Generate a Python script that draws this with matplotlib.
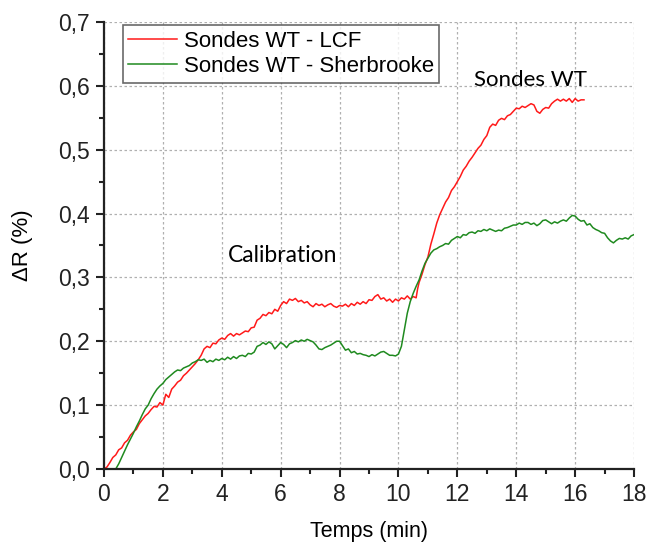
import matplotlib
matplotlib.use("Agg")
import matplotlib.pyplot as plt
from matplotlib.ticker import MultipleLocator, FuncFormatter

# sondes WT - LCF
t_lcf = [0.00, 0.10, 0.20, 0.30, 0.40, 0.50, 0.60, 0.70, 0.80, 0.90,
         1.00, 1.10, 1.20, 1.30, 1.40, 1.50, 1.60, 1.70, 1.80, 1.90,
         2.00, 2.10, 2.20, 2.30, 2.40, 2.50, 2.60, 2.70, 2.80, 2.90,
         3.00, 3.10, 3.20, 3.30, 3.40, 3.50, 3.60, 3.70, 3.80, 3.90,
         4.00, 4.10, 4.20, 4.30, 4.40, 4.50, 4.60, 4.70, 4.80, 4.90,
         5.00, 5.10, 5.20, 5.30, 5.40, 5.50, 5.60, 5.70, 5.80, 5.90,
         6.00, 6.10, 6.20, 6.30, 6.40, 6.50, 6.60, 6.70, 6.80, 6.90,
         7.00, 7.10, 7.20, 7.30, 7.40, 7.50, 7.60, 7.70, 7.80, 7.90,
         8.00, 8.10, 8.20, 8.30, 8.40, 8.50, 8.60, 8.70, 8.80, 8.90,
         9.00, 9.10, 9.20, 9.30, 9.40, 9.50, 9.60, 9.70, 9.80, 9.90,
         10.00, 10.10, 10.20, 10.30, 10.40, 10.50, 10.60, 10.65, 10.70, 10.80,
         10.90, 11.00, 11.10, 11.20, 11.30, 11.40, 11.50, 11.60, 11.70, 11.80,
         11.90, 12.00, 12.10, 12.20, 12.30, 12.40, 12.50, 12.60, 12.70, 12.80,
         12.90, 13.00, 13.10, 13.20, 13.30, 13.40, 13.50, 13.60, 13.70, 13.80,
         13.90, 14.00, 14.10, 14.20, 14.30, 14.40, 14.50, 14.60, 14.70, 14.80,
         14.90, 15.00, 15.10, 15.20, 15.30, 15.40, 15.50, 15.60, 15.70, 15.80,
         15.90, 16.00, 16.10, 16.20, 16.30]
dr_lcf = [0.000, 0.003, 0.010, 0.018, 0.022, 0.030, 0.033, 0.041, 0.045, 0.053,
          0.058, 0.062, 0.071, 0.077, 0.083, 0.087, 0.093, 0.098, 0.097, 0.104,
          0.100, 0.117, 0.112, 0.125, 0.130, 0.136, 0.139, 0.146, 0.150, 0.155,
          0.160, 0.165, 0.171, 0.178, 0.188, 0.192, 0.190, 0.197, 0.196, 0.202,
          0.205, 0.203, 0.209, 0.212, 0.208, 0.212, 0.210, 0.213, 0.216, 0.215,
          0.221, 0.222, 0.233, 0.236, 0.242, 0.240, 0.245, 0.243, 0.250, 0.247,
          0.256, 0.262, 0.259, 0.266, 0.264, 0.267, 0.262, 0.264, 0.260, 0.262,
          0.257, 0.254, 0.259, 0.256, 0.258, 0.254, 0.257, 0.259, 0.255, 0.253,
          0.256, 0.255, 0.258, 0.254, 0.259, 0.256, 0.261, 0.258, 0.262, 0.259,
          0.265, 0.264, 0.270, 0.273, 0.266, 0.268, 0.263, 0.266, 0.261, 0.266,
          0.263, 0.268, 0.266, 0.271, 0.266, 0.270, 0.268, 0.282, 0.292, 0.305,
          0.320, 0.332, 0.352, 0.368, 0.385, 0.398, 0.408, 0.418, 0.425, 0.436,
          0.442, 0.450, 0.458, 0.468, 0.474, 0.482, 0.488, 0.495, 0.502, 0.507,
          0.516, 0.522, 0.535, 0.540, 0.538, 0.546, 0.549, 0.547, 0.553, 0.555,
          0.560, 0.565, 0.564, 0.568, 0.566, 0.569, 0.572, 0.570, 0.560, 0.557,
          0.563, 0.566, 0.565, 0.572, 0.576, 0.579, 0.576, 0.579, 0.576, 0.580,
          0.574, 0.580, 0.576, 0.578, 0.578]

# sondes WT - Sherbrooke
t_sher = [0.40, 0.50, 0.60, 0.70, 0.80, 0.90,
          1.00, 1.10, 1.20, 1.30, 1.40, 1.50, 1.60, 1.70, 1.80, 1.90,
          2.00, 2.10, 2.20, 2.30, 2.40, 2.50, 2.60, 2.70, 2.80, 2.90,
          3.00, 3.10, 3.20, 3.30, 3.40, 3.50, 3.60, 3.70, 3.80, 3.90,
          4.00, 4.10, 4.20, 4.30, 4.40, 4.50, 4.60, 4.70, 4.80, 4.90,
          5.00, 5.10, 5.20, 5.30, 5.40, 5.50, 5.60, 5.70, 5.80, 5.90,
          6.00, 6.10, 6.20, 6.30, 6.40, 6.50, 6.60, 6.70, 6.80, 6.90,
          7.00, 7.10, 7.20, 7.30, 7.40, 7.50, 7.60, 7.70, 7.80, 7.90,
          8.00, 8.10, 8.20, 8.30, 8.40, 8.50, 8.60, 8.70, 8.80, 8.90,
          9.00, 9.10, 9.20, 9.30, 9.40, 9.50, 9.60, 9.70, 9.80, 9.90,
          10.00, 10.10, 10.20, 10.30, 10.40, 10.50, 10.60, 10.70, 10.80, 10.90,
          11.00, 11.10, 11.20, 11.30, 11.40, 11.50, 11.60, 11.70, 11.80, 11.90,
          12.00, 12.10, 12.20, 12.30, 12.40, 12.50, 12.60, 12.70, 12.80, 12.90,
          13.00, 13.10, 13.20, 13.30, 13.40, 13.50, 13.60, 13.70, 13.80, 13.90,
          14.00, 14.10, 14.20, 14.30, 14.40, 14.50, 14.60, 14.70, 14.80, 14.90,
          15.00, 15.10, 15.20, 15.30, 15.40, 15.50, 15.60, 15.70, 15.80, 15.90,
          16.00, 16.10, 16.20, 16.30, 16.40, 16.50, 16.60, 16.70, 16.80, 16.90,
          17.00, 17.10, 17.20, 17.30, 17.40, 17.50, 17.60, 17.70, 17.80, 17.90,
          18.00]
dr_sher = [0.000, 0.008, 0.018, 0.028, 0.038, 0.047,
           0.056, 0.066, 0.075, 0.085, 0.094, 0.100, 0.110, 0.118, 0.125, 0.130,
           0.134, 0.140, 0.144, 0.148, 0.152, 0.155, 0.154, 0.158, 0.160, 0.162,
           0.166, 0.168, 0.171, 0.170, 0.172, 0.167, 0.170, 0.168, 0.172, 0.170,
           0.173, 0.171, 0.175, 0.172, 0.176, 0.173, 0.177, 0.178, 0.176, 0.181,
           0.180, 0.183, 0.192, 0.194, 0.198, 0.195, 0.199, 0.196, 0.188, 0.193,
           0.198, 0.195, 0.190, 0.196, 0.198, 0.201, 0.199, 0.202, 0.200, 0.203,
           0.201, 0.199, 0.194, 0.188, 0.187, 0.190, 0.192, 0.194, 0.197, 0.200,
           0.200, 0.193, 0.186, 0.188, 0.182, 0.184, 0.180, 0.181, 0.179, 0.178,
           0.176, 0.179, 0.177, 0.180, 0.183, 0.184, 0.181, 0.178, 0.178, 0.177,
           0.180, 0.192, 0.218, 0.244, 0.262, 0.275, 0.286, 0.296, 0.310, 0.322,
           0.330, 0.338, 0.343, 0.345, 0.348, 0.350, 0.353, 0.352, 0.358, 0.361,
           0.364, 0.362, 0.367, 0.366, 0.370, 0.371, 0.369, 0.373, 0.372, 0.375,
           0.373, 0.376, 0.374, 0.372, 0.374, 0.373, 0.377, 0.378, 0.380, 0.382,
           0.382, 0.385, 0.383, 0.386, 0.386, 0.383, 0.385, 0.381, 0.384, 0.389,
           0.390, 0.387, 0.384, 0.387, 0.385, 0.388, 0.390, 0.388, 0.393, 0.397,
           0.396, 0.391, 0.388, 0.389, 0.382, 0.384, 0.378, 0.375, 0.373, 0.370,
           0.369, 0.362, 0.357, 0.354, 0.358, 0.361, 0.360, 0.362, 0.360, 0.365,
           0.367]

plt.rcParams['font.family'] = ['Liberation Sans', 'DejaVu Sans']

fig = plt.figure(figsize=(6.47, 5.48), dpi=100)
ax = fig.add_axes([0.1607, 0.1442, 0.8193, 0.8158])

ax.plot(t_lcf, dr_lcf, color='#ff1a1a', lw=1.1, label='Sondes WT - LCF')
ax.plot(t_sher, dr_sher, color='#1f8a1f', lw=1.1, label='Sondes WT - Sherbrooke')

ax.set_xlim(0, 18)
ax.set_ylim(0, 0.7)
ax.xaxis.set_major_locator(MultipleLocator(2))
ax.xaxis.set_minor_locator(MultipleLocator(1))
ax.yaxis.set_major_locator(MultipleLocator(0.1))
ax.yaxis.set_minor_locator(MultipleLocator(0.05))
ax.yaxis.set_major_formatter(FuncFormatter(lambda v, p: ('%.1f' % v).replace('.', ',')))

ax.grid(True, which='major', color='#b0b0b0', linestyle=(0, (2, 2)), lw=0.9)
ax.set_axisbelow(True)

for side in ['top', 'right']:
    ax.spines[side].set_visible(False)
for side in ['left', 'bottom']:
    ax.spines[side].set_linewidth(1.6)
    ax.spines[side].set_color('#222222')

ax.tick_params(which='major', direction='out', length=6, width=1.5,
               labelsize=16.5, colors='#222222', pad=4)
ax.tick_params(which='minor', direction='out', length=3.5, width=1.5,
               colors='#222222')

ax.set_xlabel('Temps (min)', fontsize=15.5, labelpad=11)
ax.set_ylabel('ΔR (%)', fontsize=16, labelpad=18)

ax.text(6.05, 0.335, 'Calibration', fontsize=16.5, family='Lato',
        ha='center', va='center')
ax.text(14.47, 0.609, 'Sondes WT', fontsize=16, family='Lato',
        ha='center', va='center')

leg = ax.legend(loc='upper left', bbox_to_anchor=(0.035, 0.993), fontsize=16,
                frameon=True, fancybox=False, handlelength=2.2,
                handletextpad=0.3, borderpad=0.25, labelspacing=0.2,
                borderaxespad=0)
leg.get_frame().set_edgecolor('#444444')
leg.get_frame().set_linewidth(1.2)

fig.savefig('out.png', dpi=100)
